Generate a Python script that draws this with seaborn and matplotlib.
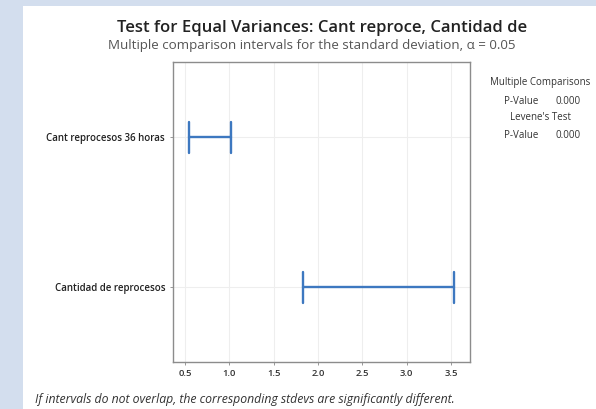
import matplotlib
matplotlib.use("Agg")
import matplotlib.pyplot as plt
import seaborn as sns
import pandas as pd
from matplotlib.patches import Rectangle

# ---- data ----
categories = ["Cant reprocesos 36 horas", "Cantidad de reprocesos"]
lower = [0.54, 1.83]
upper = [1.02, 3.53]
x_ticks = [0.5, 1.0, 1.5, 2.0, 2.5, 3.0, 3.5]
mc_pvalue = "0.000"
levene_pvalue = "0.000"

df = pd.DataFrame({"grupo": categories * 2, "stdev": lower + upper})

sns.set_theme(style="white")
plt.rcParams["font.family"] = ["Open Sans", "DejaVu Sans"]

W, H = 596, 409
fig = plt.figure(figsize=(W / 100, H / 100), dpi=100)
fig.patch.set_facecolor("#D3DEEE")
bg = Rectangle((23 / W, 0), 1 - 23 / W, 1 - 6 / H, transform=fig.transFigure,
               facecolor="white", edgecolor="none", zorder=-10)
fig.patches.append(bg)

ax = fig.add_axes([172.7 / W, 1 - 361.7 / H, (470 - 172.7) / W, (361.7 - 62) / H])
ax.set_zorder(1)
ax.set_facecolor("white")

blue = "#3D78C0"
sns.pointplot(data=df, x="stdev", y="grupo", order=categories,
              estimator="mean", errorbar=lambda v: (v.min(), v.max()),
              capsize=0.21, color=blue, linestyle="none", marker="",
              err_kws={"linewidth": 1.7}, ax=ax)

ax.set_xlim(0.361, 3.715)
ax.set_ylim(1.495, -0.503)
ax.set_xticks(x_ticks)
ax.set_xticklabels([f"{t:.1f}" for t in x_ticks], fontsize=6.8, color="#333333", fontweight="semibold")
ax.set_yticks([0, 1])
ax.set_yticklabels(categories, fontsize=7, color="#222222", fontweight="semibold")
ax.set_xlabel("")
ax.set_ylabel("")

for t in x_ticks:
    ax.axvline(t, color="#EEEEEE", linewidth=0.8, zorder=0)
for p in [0, 1]:
    ax.axhline(p, color="#EEEEEE", linewidth=0.8, zorder=0)

for s in ax.spines.values():
    s.set_visible(True)
    s.set_color("#8C8C8C")
    s.set_linewidth(1.0)
ax.tick_params(axis="both", which="both", direction="out", length=2.5, width=0.6,
               color="#888888", pad=3, bottom=True, left=True)

fig.text(322 / W, 1 - 28 / H, "Test for Equal Variances: Cant reproce, Cantidad de",
         ha="center", va="center", fontsize=12, fontweight="semibold", color="#222222")
fig.text(312 / W, 1 - 46 / H, "Multiple comparison intervals for the standard deviation, α = 0.05",
         ha="center", va="center", fontsize=9.6, color="#555555")

fs = 7
fig.text(540 / W, 1 - 83 / H, "Multiple Comparisons", ha="center", va="center",
         fontsize=fs, color="#333333")
fig.text(521 / W, 1 - 101 / H, "P-Value", ha="center", va="center", fontsize=fs, color="#333333")
fig.text(568 / W, 1 - 101 / H, mc_pvalue, ha="center", va="center", fontsize=fs, color="#333333")
fig.text(540 / W, 1 - 117 / H, "Levene's Test", ha="center", va="center", fontsize=fs,
         color="#333333")
fig.text(521 / W, 1 - 135 / H, "P-Value", ha="center", va="center", fontsize=fs, color="#333333")
fig.text(568 / W, 1 - 135 / H, levene_pvalue, ha="center", va="center", fontsize=fs, color="#333333")

fig.text(35 / W, 1 - 400 / H,
         "If intervals do not overlap, the corresponding stdevs are significantly different.",
         ha="left", va="center", fontsize=8.8, style="italic", color="#333333")

fig.savefig("out.png", dpi=100, facecolor=fig.get_facecolor())
